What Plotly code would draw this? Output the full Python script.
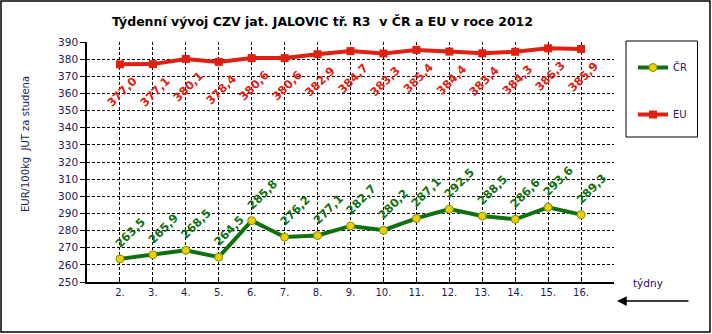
import plotly.graph_objects as go

weeks = list(range(2, 17))
week_labels = [f"{w}." for w in weeks]
cr_values = [263.5, 265.9, 268.5, 264.5, 285.8, 276.2, 277.1, 282.7, 280.2, 287.1, 292.5, 288.5, 286.6, 293.6, 289.3]
eu_values = [377.0, 377.1, 380.1, 378.4, 380.6, 380.6, 382.9, 384.7, 383.3, 385.4, 384.4, 383.4, 384.3, 386.3, 385.9]

W, H = 712, 334
L, R, T, B = 87, 614, 42, 282  # plot area in pixels


def px(x):
    return (x - L) / (R - L)


def py(y):
    return (B - y) / (B - T)


GREEN = "#107010"
RED = "#e02010"
NAVY = "#1a1a5a"

fig = go.Figure()
fig.add_trace(go.Scatter(
    x=weeks, y=cr_values, name="ČR", mode="lines+markers",
    line=dict(color=GREEN, width=4),
    marker=dict(symbol="circle", size=8, color="#f2cc00", line=dict(color="#6a9a10", width=1)),
    legendgroup="cr",
))
fig.add_trace(go.Scatter(
    x=weeks, y=eu_values, name="EU", mode="lines+markers",
    line=dict(color=RED, width=4),
    marker=dict(symbol="square", size=8, color=RED),
    legendgroup="eu",
))

annotations = []
for w, v in zip(weeks, cr_values):
    annotations.append(dict(
        x=w, y=v, xref="x", yref="y", text=f"{v:.1f}".replace(".", ","),
        showarrow=False, textangle=-45, xshift=10, yshift=26,
        font=dict(family="DejaVu Sans", size=11.5, color=GREEN, weight="bold"),
    ))
for w, v in zip(weeks, eu_values):
    annotations.append(dict(
        x=w, y=v, xref="x", yref="y", text=f"{v:.1f}".replace(".", ","),
        showarrow=False, textangle=-45, xshift=2, yshift=-28,
        font=dict(family="DejaVu Sans", size=11.5, color=RED, weight="bold"),
    ))

# title
annotations.append(dict(
    x=px(322), y=py(21), xref="paper", yref="paper", showarrow=False,
    text="Týdenní vývoj CZV jat. JALOVIC tř. R3  v ČR a EU v roce 2012",
    font=dict(family="DejaVu Sans", size=12.5, color="black", weight="bold"),
    xanchor="center", yanchor="middle",
))
# y axis title
annotations.append(dict(
    x=px(25), y=py(144), xref="paper", yref="paper", showarrow=False,
    text="EUR/100kg  JUT za studena", textangle=-90,
    font=dict(family="DejaVu Sans", size=10, color=NAVY),
    xanchor="center", yanchor="middle",
))
# týdny
annotations.append(dict(
    x=px(648), y=py(283), xref="paper", yref="paper", showarrow=False,
    text="týdny", font=dict(family="DejaVu Sans", size=10.5, color="#330066"),
    xanchor="center", yanchor="middle",
))
# arrow
annotations.append(dict(
    x=px(617), y=py(301), xref="paper", yref="paper", text="",
    showarrow=True, ax=73, ay=0, axref="pixel", ayref="pixel",
    arrowhead=2, arrowsize=1.3, arrowwidth=1.5, arrowcolor="black",
))

shapes = [
    # outer border
    dict(type="rect", xref="paper", yref="paper",
         x0=px(1), x1=px(710), y0=py(332), y1=py(1),
         line=dict(color="black", width=1.5), fillcolor="rgba(0,0,0,0)", layer="below"),
    # legend box
    dict(type="rect", xref="paper", yref="paper",
         x0=px(626), x1=px(697.5), y0=py(137), y1=py(41),
         line=dict(color="black", width=1), fillcolor="rgba(0,0,0,0)"),
]

fig.update_layout(
    width=W, height=H,
    margin=dict(l=L, r=W - R, t=T, b=H - B, pad=0),
    paper_bgcolor="white", plot_bgcolor="white",
    showlegend=True,
    legend=dict(
        x=px(633), y=py(53), xanchor="left", yanchor="top",
        font=dict(family="DejaVu Sans", size=10, color=NAVY),
        bgcolor="rgba(0,0,0,0)", borderwidth=0,
        tracegroupgap=28, traceorder="grouped", itemwidth=30,
    ),
    annotations=annotations,
    shapes=shapes,
)
fig.update_xaxes(
    range=[1, 17], tickvals=weeks + [17], ticktext=week_labels + [""],
    showgrid=True, gridcolor="black", gridwidth=1, griddash="3px,2px",
    showline=True, linecolor="black", linewidth=1.5,
    ticks="inside", ticklen=4, tickcolor="black",
    tickfont=dict(family="DejaVu Sans", size=10, color=NAVY),
    zeroline=False, fixedrange=True,
)
fig.update_yaxes(
    range=[250, 390], dtick=10, tick0=250,
    showgrid=True, gridcolor="black", gridwidth=1, griddash="3px,2px",
    showline=True, linecolor="black", linewidth=1.5,
    ticks="outside", ticklen=5, tickcolor="black",
    tickfont=dict(family="DejaVu Sans", size=10.5, color=NAVY),
    zeroline=False, fixedrange=True,
)

fig.write_html("out.html", config={"displayModeBar": False})
